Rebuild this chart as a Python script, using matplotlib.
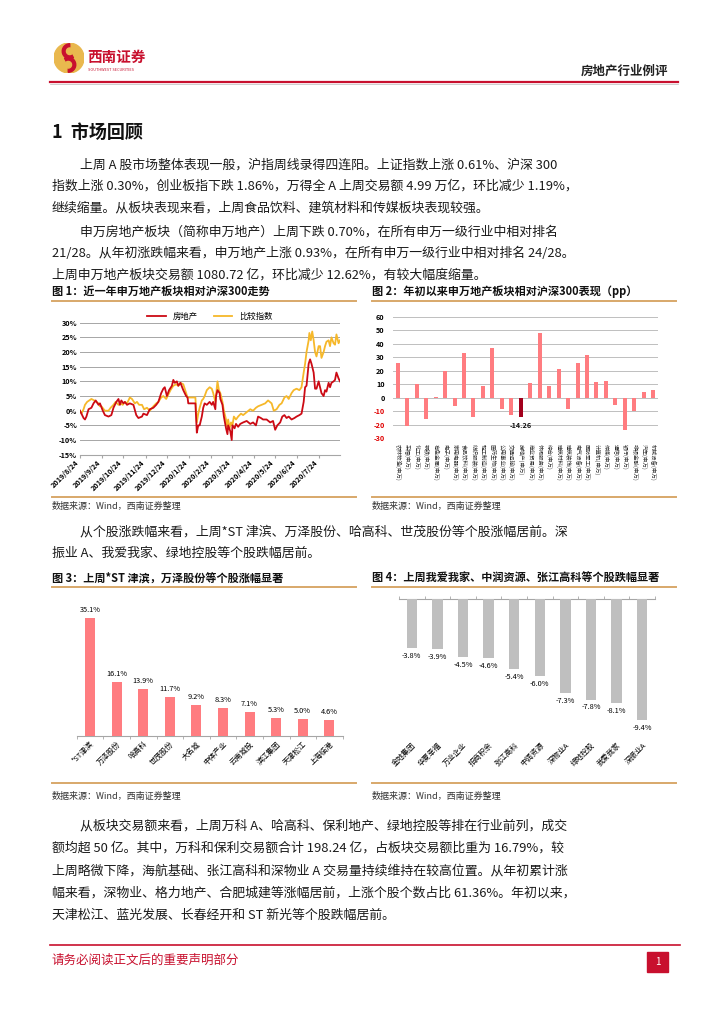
import matplotlib
matplotlib.use("Agg")
import matplotlib.pyplot as plt
from matplotlib.patches import Circle, Wedge, Rectangle
import pandas as pd
import numpy as np

plt.rcParams['font.family'] = ['Noto Sans CJK SC', 'DejaVu Sans']
plt.rcParams['axes.unicode_minus'] = False

# ---------------- data ----------------
start_date = "2019-08-24"

# 图1 房地产 (days from start, relative return %)
re_days = [0, 2, 5, 7, 9, 12, 16, 19, 22, 26, 28, 32, 35, 40, 44, 47, 51, 54, 56, 58,
           61, 63, 66, 70, 75, 79, 82, 87, 89, 94, 98, 103, 107, 110, 114, 117, 119, 122,
           125, 129, 131, 133, 136, 138, 141, 145, 149, 151, 152, 162, 164, 166, 168, 171,
           173, 175, 178, 182, 185, 187, 190, 191, 193, 196, 197, 200, 202, 205, 207, 208,
           211, 213, 214, 217, 219, 222, 225, 229, 234, 239, 243, 247, 250, 254, 257, 262,
           267, 271, 274, 277, 281, 284, 287, 290, 293, 297, 301, 304, 308, 311, 314, 316,
           318, 321, 323, 325, 328, 330, 332, 335, 337, 339, 342, 344, 346, 349, 351, 353,
           356, 358, 360, 363, 365]
re_vals = [0, -1, -2.5, -3, -2, 0.5, 1, 2.5, 3.5, 2, 2.5, 0, -1.5, -2, -1.5, 1, 3, 4, 2, 3.5,
           2.5, 3, 2, 2.5, 2, -1.5, -2.5, -2, -1, -1.5, 0.5, 1, 2, 3, 6, 7.5, 8, 5,
           7, 8.5, 10.5, 9.5, 10, 8.5, 9.5, 7, 5, 4.5, 2.5, 2.5, -7.5, -5, -5, -2,
           1, 2.5, 2, 3, 2, 3, 0.5, 5, 7, 6, 4, 2, -2, -6, -8, -5,
           -7, -10, -5, -6, -4.5, -5.5, -4.5, -4, -3.5, -4.5, -4, -5, -2, -2.5, -3, -3,
           -4, -3.5, -6.5, -5, -4, -2, -1.5, -2.5, -2, -3, -2.5, -2, -1.5, -1, 3, 8,
           8.5, 16, 17.5, 16, 13, 7.5, 7.5, 10, 8, 6, 5, 7, 6.5, 9.5, 8, 9.5,
           10, 10.5, 13, 11, 10]

# 图1 比较指数
cmp_days = [0, 2, 5, 7, 10, 13, 16, 20, 23, 26, 28, 30, 35, 40, 43, 47, 50, 54, 57, 60,
            63, 66, 70, 73, 77, 80, 83, 87, 90, 94, 98, 103, 107, 110, 114, 117, 121, 124,
            127, 131, 135, 138, 141, 145, 149, 151, 162, 164, 166, 168, 171, 173, 175, 178,
            182, 185, 187, 190, 193, 195, 197, 200, 202, 205, 206, 208, 210, 212, 214, 216,
            219, 222, 226, 229, 234, 239, 243, 247, 250, 255, 260, 264, 269, 272, 276, 280,
            283, 287, 290, 293, 297, 300, 304, 308, 311, 314, 316, 318, 321, 322, 324, 326,
            328, 330, 332, 335, 337, 339, 342, 344, 346, 349, 351, 353, 356, 358, 360, 363, 365]
cmp_vals = [0, -1, 0.5, 2, 3, 3.5, 4, 3.5, 3, 2.5, 1.5, 1.5, 0, 0, 1, 2, 3, 2, 2.5, 2,
            3, 2.5, 4.5, 4, 2.5, 3, 2, 2, 0.5, 1, 0, 1.5, 2.5, 3, 4.5, 5, 4, 5.5,
            7, 8.5, 9, 8.5, 9.5, 9, 6, 4.5, 4.5, -4, -1, 1, 3.5, 4, 5, 7,
            8, 7.5, 6, 3, 10, 7, 6, 3, 0, -3, -5.5, -3, -6, -4, -5, -2,
            -3, -2, -1, -1.5, -0.5, 0.5, 0, 1, 1.5, 2, 2.5, 3.5, 2.5, 0, 0.5, 2,
            2.5, 4.5, 5, 4, 6, 7, 7.5, 7, 8, 13, 16, 20, 24, 26.5, 24, 27,
            24, 20, 18.5, 22, 22, 18, 20, 22, 23.5, 24, 22, 25, 23, 22.5, 26, 23, 24]

month_ticks = ["2019-08-24", "2019-09-24", "2019-10-24", "2019-11-24", "2019-12-24",
               "2020-01-24", "2020-02-24", "2020-03-24", "2020-04-24", "2020-05-24",
               "2020-06-24", "2020-07-24"]

# 图2 申万一级行业 年初以来相对沪深300 (pp)
industries = ["农林牧渔", "采掘", "化工", "钢铁", "有色金属", "电子", "家用电器", "食品饮料",
              "纺织服装", "轻工制造", "医药生物", "公用事业", "交通运输", "房地产", "商业贸易",
              "休闲服务", "综合", "建筑材料", "建筑装饰", "电气设备", "国防军工", "计算机",
              "传媒", "通信", "银行", "非银金融", "汽车", "机械设备"]
industry_pp = [26, -21, 10, -16, 0.3, 20, -6, 33.5, -14, 8.5, 37, -8, -13, -14.26, 11,
               48, 9, 21, -8, 26, 31.5, 12, 12.5, -5.5, -24, -9.5, 4.5, 6]

# 图3 涨幅
up_names = ["*ST津滨", "万泽股份", "哈高科", "世茂股份", "大名城", "中体产业", "云南城投",
            "滨江集团", "天津松江", "上海临港"]
up_vals = [35.1, 16.1, 13.9, 11.7, 9.2, 8.3, 7.1, 5.3, 5.0, 4.6]

# 图4 跌幅
down_names = ["金地集团", "华夏幸福", "万业企业", "招商积余", "张江高科", "中润资源",
              "深物业A", "绿地控股", "我爱我家", "深振业A"]
down_vals = [-3.8, -3.9, -4.5, -4.6, -5.4, -6.0, -7.3, -7.8, -8.1, -9.4]

# ---------------- page ----------------
W, H = 724, 1024
fig = plt.figure(figsize=(W / 100, H / 100), dpi=100)
fig.patch.set_facecolor("white")

RED = "#C8102E"
TAN = "#D8A86A"


def fx(x):
    return x / W


def fy(y):
    return 1 - y / H


def add_ax(l, t, r, b):
    return fig.add_axes([fx(l), fy(b), (r - l) / W, (b - t) / H])


def hline(x0, x1, y, color, lw):
    fig.add_artist(plt.Line2D([fx(x0), fx(x1)], [fy(y), fy(y)], color=color, lw=lw))


def txt(x, y, s, **kw):
    fig.text(fx(x), fy(y), s, va="center", **kw)


# header logo
logo = fig.add_axes([fx(54), fy(74), 30 / W, 32 / H])
logo.set_xlim(-1, 1)
logo.set_ylim(-1, 1)
logo.set_aspect("equal")
logo.axis("off")
logo.add_patch(Circle((0, 0), 1, color="#E9B84E"))
logo.add_patch(Wedge((0.05, 0.45), 0.5, 90, 300, color="#C8102E"))
logo.add_patch(Wedge((-0.05, -0.45), 0.5, 270, 120, color="#C8102E"))
logo.add_patch(Wedge((0.05, 0.45), 0.22, 0, 360, color="#E9B84E"))
logo.add_patch(Wedge((-0.05, -0.45), 0.22, 0, 360, color="#E9B84E"))

txt(87, 57, "西南证券", fontsize=10.5, color=RED, fontweight="bold")
txt(88, 70, "SOUTHWEST SECURITIES", fontsize=2.8, color=RED)
txt(668, 71, "房地产行业例评", fontsize=9, ha="right", fontweight="bold", color="#222222")
hline(50, 678, 82, RED, 1.6)
hline(50, 678, 83.5, "#BBBBBB", 0.5)

# section title
txt(52, 133, "1  市场回顾", fontsize=13, fontweight="bold", color="#111111")

body = dict(fontsize=9.3, color="#1a1a1a")
p1 = ["上周 A 股市场整体表现一般，沪指周线录得四连阳。上证指数上涨 0.61%、沪深 300",
      "指数上涨 0.30%，创业板指下跌 1.86%，万得全 A 上周交易额 4.99 万亿，环比减少 1.19%，",
      "继续缩量。从板块表现来看，上周食品饮料、建筑材料和传媒板块表现较强。"]
p2 = ["申万房地产板块（简称申万地产）上周下跌 0.70%，在所有申万一级行业中相对排名",
      "21/28。从年初涨跌幅来看，申万地产上涨 0.93%，在所有申万一级行业中相对排名 24/28。",
      "上周申万地产板块交易额 1080.72 亿，环比减少 12.62%，有较大幅度缩量。"]
p3 = ["从个股涨跌幅来看，上周*ST 津滨、万泽股份、哈高科、世茂股份等个股涨幅居前。深",
      "振业 A、我爱我家、绿地控股等个股跌幅居前。"]
p4 = ["从板块交易额来看，上周万科 A、哈高科、保利地产、绿地控股等排在行业前列，成交",
      "额均超 50 亿。其中，万科和保利交易额合计 198.24 亿，占板块交易额比重为 16.79%，较",
      "上周略微下降，海航基础、张江高科和深物业 A 交易量持续维持在较高位置。从年初累计涨",
      "幅来看，深物业、格力地产、合肥城建等涨幅居前，上涨个股个数占比 61.36%。年初以来，",
      "天津松江、蓝光发展、长春经开和 ST 新光等个股跌幅居前。"]


def paragraph(lines, y0, step):
    for i, s in enumerate(lines):
        txt(80 if i == 0 else 52, y0 + i * step, s, **body)


paragraph(p1, 165, 21.5)
paragraph(p2, 232, 21.5)
paragraph(p3, 532, 21.5)
paragraph(p4, 826, 22.3)

# figure titles / source lines
ttl = dict(fontsize=8, fontweight="bold", color="#111111")
src = dict(fontsize=6.5, color="#333333", style="italic")
txt(52, 292, "图 1：近一年申万地产板块相对沪深300走势", **ttl)
txt(372, 292, "图 2：年初以来申万地产板块相对沪深300表现（pp）", **ttl)
txt(52, 578, "图 3：上周*ST 津滨，万泽股份等个股涨幅显著", **ttl)
txt(372, 578, "图 4：上周我爱我家、中润资源、张江高科等个股跌幅显著", **ttl)
for y in (301, 497, 587, 783):
    hline(52, 356, y, TAN, 1.4)
    hline(372, 676, y, TAN, 1.4)
for x in (52, 372):
    txt(x, 506, "数据来源：Wind，西南证券整理", **src)
    txt(x, 796, "数据来源：Wind，西南证券整理", **src)

# footer
hline(50, 680, 945, RED, 1.2)
txt(52, 960, "请务必阅读正文后的重要声明部分", fontsize=9, color=RED)
fig.add_artist(Rectangle((fx(647), fy(972)), 21 / W, 20 / H, color="#C8102E",
                         transform=fig.transFigure))
txt(657.5, 962, "1", fontsize=7, color="white", ha="center")

# ---------------- 图1 line chart ----------------
base = pd.Timestamp(start_date)
re_dates = base + pd.to_timedelta(re_days, unit="D")
cmp_dates = base + pd.to_timedelta(cmp_days, unit="D")

ax1 = add_ax(80, 322.7, 340, 454.7)
ax1.plot(cmp_dates, cmp_vals, color="#F6B82A", lw=1.3, label="比较指数", zorder=3)
ax1.plot(re_dates, re_vals, color="#CC0A14", lw=1.3, label="房地产", zorder=4)
ax1.set_ylim(-15, 30)
ax1.set_yticks(np.arange(-15, 31, 5))
ax1.set_yticklabels([f"{v}%" for v in range(-15, 31, 5)], fontsize=5.2, fontweight="bold")
ax1.set_xlim(base, base + pd.Timedelta(days=365))
ticks = pd.to_datetime(month_ticks)
ax1.set_xticks(ticks)
ax1.set_xticklabels([f"{t.year}/{t.month}/{t.day}" for t in ticks], rotation=45,
                    ha="right", fontsize=5.2, fontweight="bold")
ax1.grid(axis="y", color="#A6A6A6", lw=0.7)
ax1.set_axisbelow(True)
for s in ax1.spines.values():
    s.set_visible(False)
ax1.spines["bottom"].set_visible(True)
ax1.spines["bottom"].set_color("#A6A6A6")
ax1.tick_params(axis="y", length=0, pad=2)
ax1.tick_params(axis="x", length=2, color="#A6A6A6", pad=1)
h, l = ax1.get_legend_handles_labels()
ax1.legend([h[1], h[0]], [l[1], l[0]], loc="lower center", bbox_to_anchor=(0.5, 0.99),
           ncol=2, frameon=False, fontsize=6, handlelength=2.2, columnspacing=2,
           borderaxespad=0)

# ---------------- 图2 industry bars ----------------
ax2 = add_ax(393, 316.7, 658, 438.3)
x2 = np.arange(len(industries))
cols2 = ["#A3001C" if n == "房地产" else "#FF7C80" for n in industries]
ax2.bar(x2, industry_pp, width=0.42, color=cols2, zorder=3)
ax2.set_ylim(-30, 60)
ax2.set_xlim(-0.5, len(industries) - 0.5)
ax2.set_yticks(np.arange(-30, 61, 10))
ax2.set_yticklabels([str(v) for v in range(-30, 61, 10)], fontsize=5.2, fontweight="bold")
for lab, v in zip(ax2.get_yticklabels(), range(-30, 61, 10)):
    if v < 0:
        lab.set_color("#E00000")
ax2.grid(axis="y", color="#BFBFBF", lw=0.7)
ax2.set_axisbelow(True)
for s in ax2.spines.values():
    s.set_visible(False)
ax2.tick_params(axis="y", length=0, pad=6)
ax2.tick_params(axis="x", length=0, pad=4)
ax2.set_xticks(x2)
ax2.set_xticklabels([f"{n}(申万)" for n in industries], rotation=270, fontsize=4,
                    va="top", ha="center", color="#333333")
i_re = industries.index("房地产")
ax2.text(x2[i_re], industry_pp[i_re] - 4, f"{industry_pp[i_re]:.2f}", ha="center",
         va="top", fontsize=5.2, fontweight="bold", color="#111111")

# ---------------- 图3 gainers ----------------
ax3 = add_ax(76.7, 610, 342.7, 735.7)
x3 = np.arange(len(up_names))
ax3.bar(x3, up_vals, width=0.38, color="#FF7C80", zorder=3)
for xi, v in zip(x3, up_vals):
    ax3.text(xi, v + 1.2, f"{v:.1f}%", ha="center", va="bottom", fontsize=5.3)
ax3.set_ylim(0, 37.6)
ax3.set_xlim(-0.5, len(up_names) - 0.5)
ax3.set_yticks([])
ax3.set_xticks(x3)
ax3.set_xticklabels(up_names, rotation=45, ha="right", fontsize=5.3,
                    rotation_mode="anchor")
ax3.set_xticks(np.arange(-0.5, len(up_names), 1), minor=True)
ax3.tick_params(axis="x", which="major", length=0, pad=3)
ax3.tick_params(axis="x", which="minor", length=2, color="#A6A6A6")
for s in ("top", "left", "right"):
    ax3.spines[s].set_visible(False)
ax3.spines["bottom"].set_color("#A6A6A6")

# ---------------- 图4 losers ----------------
ax4 = add_ax(399, 599.3, 655, 733)
x4 = np.arange(len(down_names))
ax4.bar(x4, down_vals, width=0.4, color="#BFBFBF", zorder=3)
for xi, v in zip(x4, down_vals):
    ax4.text(xi, v - 0.3, f"{v:.1f}%", ha="center", va="top", fontsize=5.3)
ax4.set_ylim(-10.4, 0)
ax4.set_xlim(-0.5, len(down_names) - 0.5)
ax4.set_yticks([])
ax4.set_xticks(x4)
ax4.set_xticklabels(down_names, rotation=45, ha="right", fontsize=5.3,
                    rotation_mode="anchor")
ax4.set_xticks(np.arange(-0.5, len(down_names), 1), minor=True)
ax4.tick_params(axis="x", which="major", length=0, pad=6)
ax4.tick_params(axis="x", which="minor", top=True, bottom=False, length=2,
                color="#A6A6A6")
for s in ("bottom", "left", "right"):
    ax4.spines[s].set_visible(False)
ax4.spines["top"].set_color("#A6A6A6")

fig.savefig("out.png", dpi=100, facecolor="white")
